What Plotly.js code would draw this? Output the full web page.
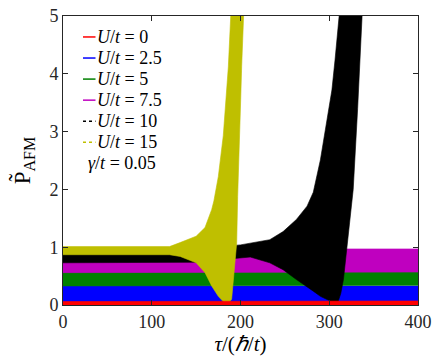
<!DOCTYPE html>
<html>
<head>
<meta charset="utf-8">
<script src="https://cdn.plot.ly/plotly-3.0.1.min.js"></script>
<style>html,body{margin:0;padding:0;background:#fff;}#chart{width:436px;height:362px;}</style>
</head>
<body>
<div id="chart"></div>
<script>
// ---- Data (envelopes of the fast oscillations) ----
const seriesNames = ["<i>U</i>/<i>t</i> = 0", "<i>U</i>/<i>t</i> = 2.5", "<i>U</i>/<i>t</i> = 5",
                     "<i>U</i>/<i>t</i> = 7.5", "<i>U</i>/<i>t</i> = 10", "<i>U</i>/<i>t</i> = 15"];
const noteText = "<i>γ</i>/<i>t</i> = 0.05";
const xTicks = [0, 100, 200, 300, 400];
const yTicks = [0, 1, 2, 3, 4, 5];

// U/t = 0
const red_tau = [0, 100, 200, 300, 400];
const red_lo  = [0.0, 0.0, 0.0, 0.0, 0.0];
const red_hi  = [0.06, 0.06, 0.06, 0.06, 0.07];
// U/t = 2.5
const blue_tau = [0, 100, 200, 300, 400];
const blue_lo  = [0.04, 0.04, 0.04, 0.04, 0.04];
const blue_hi  = [0.33, 0.34, 0.33, 0.33, 0.33];
// U/t = 5
const green_tau = [0, 100, 200, 300, 400];
const green_lo  = [0.33, 0.33, 0.33, 0.34, 0.34];
const green_hi  = [0.58, 0.58, 0.58, 0.58, 0.58];
// U/t = 7.5
const mag_tau = [0, 100, 200, 300, 400];
const mag_lo  = [0.56, 0.56, 0.57, 0.57, 0.57];
const mag_hi  = [0.97, 0.97, 0.97, 0.97, 0.97];
// U/t = 10
const blk_tau_lo = [0, 150, 190, 205, 211, 233, 248, 263, 275, 282, 290, 297, 305, 310, 313, 316, 320, 327, 332, 335, 337, 342];
const blk_lo     = [0.73, 0.74, 0.80, 0.83, 0.83, 0.73, 0.61, 0.44, 0.32, 0.24, 0.15, 0.10, 0.04, 0.06, 0.20, 0.44, 1.05, 2.0, 3.4, 4.5, 5.0, 6.0];
const blk_tau_hi = [0, 150, 200, 211, 233, 248, 263, 275, 282, 290, 297, 303, 306.5, 311.4, 316, 342];
const blk_hi     = [0.97, 0.98, 1.04, 1.07, 1.13, 1.27, 1.48, 1.71, 1.95, 2.51, 3.15, 3.72, 4.24, 5.0, 5.8, 7.0];
// U/t = 15
const yel_tau_lo = [0, 120, 132, 150, 160, 167.5, 175, 181, 184, 187, 190, 192.7, 195.7, 196.8, 199.4, 200.2, 201.3, 202.4, 206];
const yel_lo     = [0.87, 0.87, 0.84, 0.73, 0.56, 0.33, 0.15, 0.05, 0.02, 0.04, 0.10, 0.50, 1.07, 1.88, 2.97, 3.55, 4.12, 5.0, 6.0];
const yel_tau_hi = [0, 120, 132, 150, 160, 167.5, 170, 175, 180.6, 183.7, 186.3, 189, 206];
const yel_hi     = [1.01, 1.01, 1.08, 1.19, 1.34, 1.65, 1.80, 2.22, 2.93, 3.55, 4.12, 5.0, 7.0];

const colors = ["#ff0000", "#0000ff", "#008000", "#bf00bf", "#000000", "#bfbf00"];
const dashes = ["solid", "solid", "solid", "solid", "dash", "dash"];

// ---- Build traces ----
function band(tl, lo, th, hi, color, name) {
  return [
    {x: tl, y: lo, type: "scatter", mode: "lines", line: {width: 0.6, color: color}, showlegend: false, hoverinfo: "skip", name: name},
    {x: th, y: hi, type: "scatter", mode: "lines", line: {width: 0.6, color: color}, fill: "tonexty", fillcolor: color, showlegend: false, hoverinfo: "skip", name: name}
  ];
}
let traces = [];
traces = traces.concat(band(blue_tau, blue_lo, blue_tau, blue_hi, colors[1], seriesNames[1]));
traces = traces.concat(band(green_tau, green_lo, green_tau, green_hi, colors[2], seriesNames[2]));
traces = traces.concat(band(mag_tau, mag_lo, mag_tau, mag_hi, colors[3], seriesNames[3]));
traces = traces.concat(band(blk_tau_lo, blk_lo, blk_tau_hi, blk_hi, colors[4], seriesNames[4]));
traces = traces.concat(band(yel_tau_lo, yel_lo, yel_tau_hi, yel_hi, colors[5], seriesNames[5]));
traces = traces.concat(band(red_tau, red_lo, red_tau, red_hi, colors[0], seriesNames[0]));

const serif = "Liberation Serif";
const axisCol = "#262626";

// ---- Legend (drawn as shapes + annotations, MATLAB style short samples) ----
const plotL = 63, plotW = 355, plotB = 305.5, plotH = 289.5;
const px2x = p => (p - plotL) / plotW;
const px2y = p => (plotB - p) / plotH;
const shapes = [], annotations = [];
for (let i = 0; i < seriesNames.length; i++) {
  const yy = 37 + i * 21.1;
  shapes.push({type: "line", xref: "paper", yref: "paper", x0: px2x(83), x1: px2x(95.5), y0: px2y(yy), y1: px2y(yy),
               line: {color: colors[i], width: 1.5, dash: dashes[i] === "dash" ? "3px,3px" : "solid"}});
  annotations.push({xref: "paper", yref: "paper", x: px2x(95), y: px2y(yy), xanchor: "left", yanchor: "middle",
                    text: seriesNames[i], showarrow: false, font: {family: serif, size: 18, color: "#000"}});
}
annotations.push({xref: "paper", yref: "paper", x: px2x(86), y: px2y(37 + 6 * 21.1), xanchor: "left", yanchor: "middle",
                  text: noteText, showarrow: false, font: {family: serif, size: 18, color: "#000"}});

const layout = {
  width: 436, height: 362,
  font: {family: serif, size: 18, color: "#000"},
  margin: {l: 63, r: 18, t: 16, b: 57, pad: 0},
  paper_bgcolor: "#ffffff", plot_bgcolor: "#ffffff",
  showlegend: false,
  xaxis: {range: [0, 400], tickvals: xTicks, ticktext: xTicks.map(String), ticks: "inside", ticklen: 5,
          tickcolor: axisCol, showline: true, linecolor: axisCol, linewidth: 1, mirror: "ticks",
          showgrid: false, zeroline: false, tickfont: {family: serif, size: 18, color: axisCol},
          title: {text: "<i>τ</i>/(<i>ℏ</i>/<i>t</i>)", font: {family: serif, size: 21, color: "#000"}, standoff: 5}},
  yaxis: {range: [0, 5], tickvals: yTicks, ticktext: yTicks.map(String), ticks: "inside", ticklen: 5,
          tickcolor: axisCol, showline: true, linecolor: axisCol, linewidth: 1, mirror: "ticks",
          showgrid: false, zeroline: false, tickfont: {family: serif, size: 18, color: axisCol},
          title: {text: "P\u0303<sub>AFM</sub>", font: {family: serif, size: 23, color: "#000"}, standoff: 12}},
  shapes: shapes,
  annotations: annotations
};
Plotly.newPlot("chart", traces, layout, {staticPlot: true, displayModeBar: false});
</script>
</body>
</html>
